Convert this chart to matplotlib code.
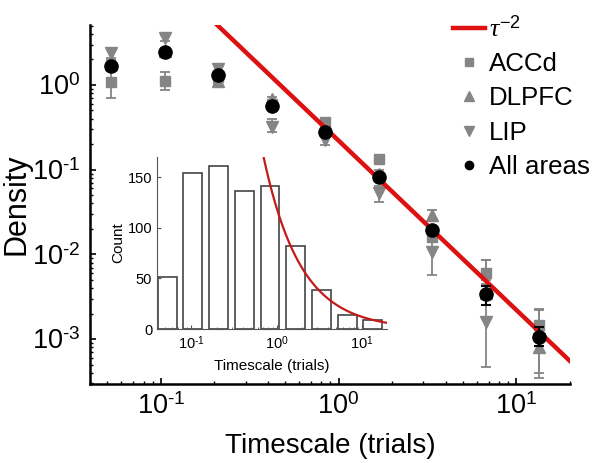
import numpy as np
import matplotlib.pyplot as plt
from matplotlib.lines import Line2D
from matplotlib.ticker import FuncFormatter

plt.rcParams['font.family'] = ['Liberation Sans', 'DejaVu Sans']
plt.rcParams['mathtext.fontset'] = 'custom'
plt.rcParams['mathtext.rm'] = 'Liberation Sans'
plt.rcParams['mathtext.it'] = 'Liberation Serif:italic'
plt.rcParams['mathtext.bf'] = 'Liberation Sans:bold'

# timescale bins (trials)
tau = [0.0525, 0.105, 0.21, 0.42, 0.84, 1.68, 3.36, 6.72, 13.4]

# density per area
accd = [1.09, 1.12, 1.25, 0.60, 0.37, 0.133, 0.016, 0.006, 0.00147]
accd_lo = [0.38, 0.25, 0.1, 0.05, 0.03, 0.01, 0.002, 0.001, 0.0005]
accd_hi = [0.38, 0.29, 0.1, 0.05, 0.03, 0.015, 0.002, 0.0025, 0.0008]

dlpfc = [1.75, 2.5, 1.12, 0.68, 0.30, 0.09, 0.029, 0.0035, 0.00081]
dlpfc_lo = [0.2, 0.2, 0.1, 0.05, 0.03, 0.01, 0.004, 0.001, 0.00046]
dlpfc_hi = [0.2, 0.2, 0.1, 0.05, 0.03, 0.01, 0.004, 0.001, 0.0005]

lip = [2.39, 3.56, 1.55, 0.32, 0.224, 0.053, 0.0107, 0.0016, 0.001]
lip_lo = [0.3, 0.3, 0.15, 0.04, 0.03, 0.011, 0.005, 0.00113, 0.0006]
lip_hi = [0.37, 0.3, 0.15, 0.08, 0.03, 0.011, 0.005, 0.0069, 0.0012]

allv = [1.68, 2.47, 1.31, 0.565, 0.28, 0.081, 0.0195, 0.0034, 0.00107]
all_lo = [0.1, 0.1, 0.08, 0.03, 0.02, 0.005, 0.0015, 0.0009, 0.00023]
all_hi = [0.1, 0.1, 0.08, 0.03, 0.02, 0.005, 0.0015, 0.0008, 0.00033]

# power-law guide: 0.22 * tau^-2
fit_coef = 0.22
fit_range = [0.2, 20]

# inset histogram
counts = [51, 154, 161, 136, 141, 82, 39, 14, 9]
inset_coef = 120  # count ~ coef / tau

gray = '#858585'
red = '#dd1111'


def pow10(v, pos):
    # MATLAB-style labels with a short hyphen in the exponent
    e = int(round(np.log10(v)))
    return r'$10^{\text{%d}}$' % e


fig = plt.figure(figsize=(6, 4.63), dpi=100)
ax = fig.add_axes([0.15, 0.1706, 0.8, 0.7754])

xf = np.logspace(np.log10(fit_range[0]), np.log10(fit_range[1]), 50)
ax.plot(xf, fit_coef * xf**-2, color=red, lw=3.2, zorder=5)

ekw = dict(ls='none', ecolor=gray, elinewidth=1.3, capsize=3.5, capthick=1.3)
ax.errorbar(tau, accd, yerr=[accd_lo, accd_hi], marker='s', ms=6.5,
            color=gray, **ekw)
ax.errorbar(tau, dlpfc, yerr=[dlpfc_lo, dlpfc_hi], marker='^', ms=8,
            color=gray, **ekw)
ax.errorbar(tau, lip, yerr=[lip_lo, lip_hi], marker='v', ms=8,
            color=gray, **ekw)
ax.errorbar(tau, allv, yerr=[all_lo, all_hi], marker='o', ms=9.5,
            color='black', ls='none', ecolor='black', elinewidth=1.5,
            capsize=3.5, capthick=1.5, zorder=6)

ax.set_xscale('log')
ax.set_yscale('log')
ax.set_xlim(0.04, 20)
ax.set_ylim(2.95e-4, 5.1)
for s in ['top', 'right']:
    ax.spines[s].set_visible(False)
for s in ['left', 'bottom']:
    ax.spines[s].set_linewidth(1.8)
ax.tick_params(which='major', direction='in', length=4, width=1.2, labelsize=19.5, pad=7)
ax.tick_params(which='minor', direction='in', length=2, width=1)
ax.set_xticks([0.1, 1, 10])
ax.set_yticks([1e-3, 1e-2, 1e-1, 1])
ax.xaxis.set_major_formatter(FuncFormatter(pow10))
ax.yaxis.set_major_formatter(FuncFormatter(pow10))
ax.set_xlabel('Timescale (trials)', fontsize=20, labelpad=9)
ax.set_ylabel('Density', fontsize=22)
ax.yaxis.set_label_coords(-0.122, 0.5)

handles = [
    Line2D([], [], color=red, lw=3.2),
    Line2D([], [], color=gray, marker='s', ms=5.5, ls='none'),
    Line2D([], [], color=gray, marker='^', ms=6.5, ls='none'),
    Line2D([], [], color=gray, marker='v', ms=6.5, ls='none'),
    Line2D([], [], color='black', marker='o', ms=6, ls='none'),
]
labels = [r'$\tau^{-2}$', 'ACCd', 'DLPFC', 'LIP', 'All areas']
fig.legend(handles, labels, loc='upper left', bbox_to_anchor=(0.737, 0.988),
           frameon=False, fontsize=18.6, handlelength=1.25, handletextpad=0.15,
           labelspacing=0.4, borderaxespad=0, numpoints=1)

# inset
ins = fig.add_axes([0.2617, 0.2894, 0.383, 0.3715])
ins.patch.set_alpha(0)
tc = np.array(tau)
half = 2**0.365
ins.bar(tc / half, counts, width=tc * (half - 1 / half), align='edge',
        color='white', edgecolor='#444444', lw=1.2)
xi = np.logspace(np.log10(0.5), np.log10(19.5), 80)
ins.plot(xi, inset_coef / xi, color='#c41a1a', lw=1.6)
ins.set_xscale('log')
ins.set_xlim(0.04, 19.5)
ins.set_ylim(0, 170)
ins.set_yticks([0, 50, 100, 150])
ins.set_xticks([0.1, 1, 10])
ins.xaxis.set_major_formatter(FuncFormatter(pow10))
for s in ['top', 'right']:
    ins.spines[s].set_visible(False)
for s in ['left', 'bottom']:
    ins.spines[s].set_color('#555555')
ins.tick_params(which='both', direction='in', labelsize=10.5, colors='#555555',
                labelcolor='black')
ins.tick_params(which='major', length=3)
ins.tick_params(which='minor', length=1.5)
ins.set_xlabel('Timescale (trials)', fontsize=11, labelpad=5)
ins.set_ylabel('Count', fontsize=11, labelpad=2)

fig.savefig('out.png', dpi=100)
